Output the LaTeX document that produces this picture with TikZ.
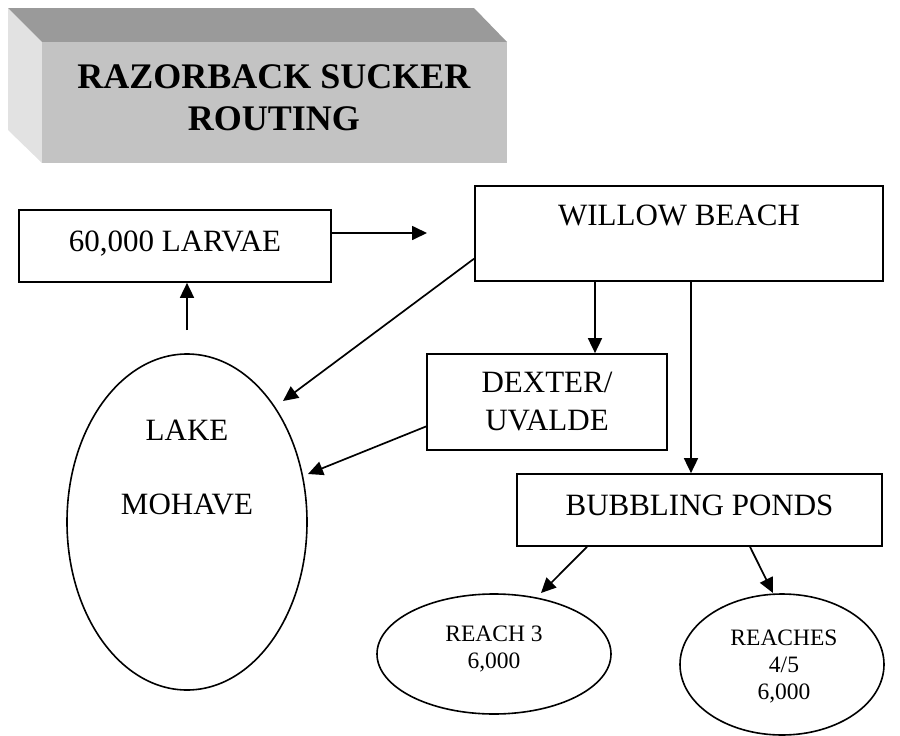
\documentclass[tikz,border=0pt]{standalone}
\usepackage{fontspec}
\setmainfont{Liberation Serif}
\usetikzlibrary{arrows.meta,shapes.geometric,calc}
\definecolor{topface}{HTML}{9A9A9A}
\definecolor{frontface}{HTML}{C3C3C3}
\definecolor{leftface}{HTML}{E2E2E2}
\begin{document}
\begin{tikzpicture}[x=1pt,y=-1pt,
  box/.style={draw,line width=1.7pt,rectangle,inner sep=0pt,font=\fontsize{31}{38}\selectfont},
  oval/.style={draw,line width=1.6pt,ellipse,inner sep=0pt},
  arr/.style={line width=1.7pt,-{Triangle[length=15pt,width=14pt]}},
  bigtext/.style={font=\fontsize{31}{74}\selectfont,align=center,inner sep=0pt,anchor=base},
  smalltext/.style={font=\fontsize{23.5}{27}\selectfont,align=center,inner sep=0pt,anchor=base}]
\useasboundingbox (0,0) rectangle (900,736);

% title block
\fill[leftface] (8,8) -- (42,42) -- (42,163) -- (8,130) -- cycle;
\fill[topface] (8,8) -- (474,8) -- (507,42) -- (42,42) -- cycle;
\fill[frontface] (42,42) rectangle (507,163);
% anchor=base of a multi-line node is the baseline of its last line
\node[font=\bfseries\fontsize{36}{42}\selectfont,align=center,inner sep=0pt,anchor=base] (title) at (274,130) {RAZORBACK SUCKER\\ROUTING};

% boxes
\node[box,minimum width=312pt,text height=41pt,text depth=31pt] (larvae) at (175,246) {60,000 LARVAE};
\node[box,minimum width=408pt,text height=39pt,text depth=56pt] (willow) at (679,233.5) {WILLOW BEACH};
\node[box,minimum width=240pt,minimum height=96pt,align=center] (dexter) at (547,402) {DEXTER/\\UVALDE};
\node[box,minimum width=365pt,text height=41pt,text depth=31pt] (bubbling) at (699.5,510) {BUBBLING PONDS};

% ellipses
\node[oval,minimum width=240pt,minimum height=336pt] (lake) at (187,522) {};
\node[bigtext] (laketext) at (187,514) {LAKE\\MOHAVE};
\node[oval,minimum width=234pt,minimum height=120pt] (reach3) at (494,654) {};
\node[smalltext] (reach3text) at (494,668) {REACH 3\\6,000};
\node[oval,minimum width=204pt,minimum height=141pt] (reaches) at (782,664.5) {};
\node[smalltext] (reachestext) at (784,699) {REACHES\\4/5\\6,000};

% free ends and columns
\coordinate (p2) at (427,233);
\coordinate (p3) at (187,330);
\coordinate (p4) at (283,401);
\coordinate (p5) at (308,474);
\coordinate (p6) at (541,593);
\coordinate (p7) at (773,593);
\coordinate (c1) at (595,0);
\coordinate (c2) at (691,0);
\coordinate (c3) at (587,0);
\coordinate (c4) at (750,0);

% connectors
\draw[arr] (larvae.east |- p2) -- (p2);
\draw[arr] (p3) -- (p3 |- larvae.south);
\draw[arr] ($(willow.north west)!0.76!(willow.south west)$) -- (p4);
\draw[arr] ($(dexter.south west)!0.25!(dexter.north west)$) -- (p5);
\draw[arr] (willow.south -| c1) -- (dexter.north -| c1);
\draw[arr] (willow.south -| c2) -- (bubbling.north -| c2);
\draw[arr] (bubbling.south -| c3) -- (p6);
\draw[arr] (bubbling.south -| c4) -- (p7);
\end{tikzpicture}
\end{document}
